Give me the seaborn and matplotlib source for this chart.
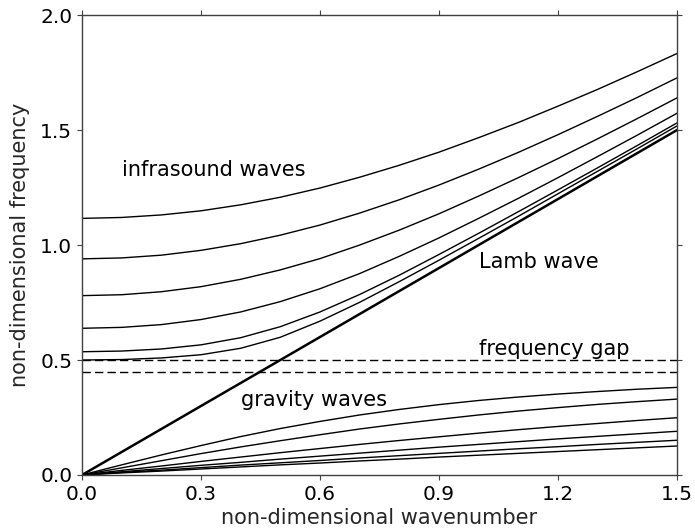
import matplotlib
matplotlib.use("Agg")
import matplotlib.pyplot as plt
import seaborn as sns
import pandas as pd

# Values
WAVENUMBER = [0.0, 0.1, 0.2, 0.3, 0.4, 0.5, 0.6, 0.7, 0.8, 0.9, 1.0, 1.1, 1.2, 1.3, 1.4, 1.5]

# infrasound (acoustic) branches, top to bottom
INFRA_1 = [1.116, 1.120, 1.131, 1.149, 1.175, 1.208, 1.248, 1.295, 1.347, 1.404, 1.467, 1.533, 1.604, 1.677, 1.754, 1.833]
INFRA_2 = [0.940, 0.944, 0.956, 0.977, 1.006, 1.043, 1.087, 1.139, 1.197, 1.261, 1.330, 1.403, 1.480, 1.560, 1.642, 1.727]
INFRA_3 = [0.780, 0.784, 0.797, 0.819, 0.851, 0.892, 0.941, 1.000, 1.065, 1.136, 1.213, 1.293, 1.376, 1.462, 1.550, 1.640]
INFRA_4 = [0.638, 0.642, 0.654, 0.676, 0.709, 0.754, 0.810, 0.876, 0.951, 1.031, 1.116, 1.203, 1.293, 1.385, 1.478, 1.573]
INFRA_5 = [0.536, 0.539, 0.548, 0.566, 0.597, 0.645, 0.709, 0.785, 0.869, 0.959, 1.051, 1.145, 1.240, 1.336, 1.433, 1.531]
INFRA_6 = [0.500, 0.502, 0.509, 0.523, 0.551, 0.599, 0.669, 0.751, 0.841, 0.934, 1.029, 1.125, 1.223, 1.321, 1.419, 1.518]

# gravity wave branches, top to bottom
GRAV_1 = [0.000, 0.044, 0.087, 0.128, 0.167, 0.202, 0.233, 0.261, 0.285, 0.306, 0.324, 0.339, 0.352, 0.363, 0.373, 0.381]
GRAV_2 = [0.000, 0.031, 0.062, 0.093, 0.122, 0.149, 0.175, 0.200, 0.222, 0.242, 0.261, 0.278, 0.293, 0.307, 0.319, 0.330]
GRAV_3 = [0.000, 0.020, 0.039, 0.059, 0.078, 0.097, 0.115, 0.133, 0.150, 0.166, 0.182, 0.197, 0.211, 0.224, 0.237, 0.249]
GRAV_4 = [0.000, 0.014, 0.028, 0.042, 0.055, 0.069, 0.082, 0.095, 0.108, 0.121, 0.133, 0.145, 0.157, 0.168, 0.179, 0.190]
GRAV_5 = [0.000, 0.011, 0.021, 0.032, 0.043, 0.053, 0.063, 0.074, 0.084, 0.094, 0.104, 0.114, 0.123, 0.133, 0.142, 0.151]
GRAV_6 = [0.000, 0.009, 0.017, 0.026, 0.035, 0.044, 0.052, 0.061, 0.069, 0.078, 0.086, 0.094, 0.102, 0.110, 0.118, 0.126]

# Lamb wave (non-dispersive)
LAMB = [0.0, 0.1, 0.2, 0.3, 0.4, 0.5, 0.6, 0.7, 0.8, 0.9, 1.0, 1.1, 1.2, 1.3, 1.4, 1.5]

# frequency gap edges
GAP_EDGES = [0.5, 0.45]

X_TICKS = [0.0, 0.3, 0.6, 0.9, 1.2, 1.5]
Y_TICKS = [0.0, 0.5, 1.0, 1.5, 2.0]

LABELS = [
    ("infrasound waves", 0.1, 1.3),
    ("Lamb wave", 1.0, 0.9),
    ("frequency gap", 1.0, 0.52),
    ("gravity waves", 0.4, 0.3),
]

OUTPUT_FILE = "out.png"


def build_frame():
    """Long-form table of every dispersion branch."""
    branches = {
        "infra_1": INFRA_1, "infra_2": INFRA_2, "infra_3": INFRA_3,
        "infra_4": INFRA_4, "infra_5": INFRA_5, "infra_6": INFRA_6,
        "grav_1": GRAV_1, "grav_2": GRAV_2, "grav_3": GRAV_3,
        "grav_4": GRAV_4, "grav_5": GRAV_5, "grav_6": GRAV_6,
    }
    rows = []
    for name, values in branches.items():
        for k, w in zip(WAVENUMBER, values):
            rows.append([name, k, w])
    return pd.DataFrame(rows, columns=["branch", "k", "omega"])


def main():
    sns.set_style("ticks")
    plt.rcParams.update({
        "font.family": ["DejaVu Sans"],
        "axes.edgecolor": "0.25",
        "axes.linewidth": 1.0,
        "xtick.color": "0.25",
        "ytick.color": "0.25",
        "xtick.labelcolor": "black",
        "ytick.labelcolor": "black",
        "xtick.direction": "out",
        "ytick.direction": "out",
        "xtick.top": True,
        "ytick.right": True,
        "xtick.major.size": 3.5,
        "ytick.major.size": 3.5,
        "xtick.major.width": 0.8,
        "ytick.major.width": 0.8,
    })

    df = build_frame()

    fig = plt.figure(figsize=(6.95, 5.31), dpi=100)
    ax = fig.add_axes([0.118, 0.1055, 0.856, 0.866])

    sns.lineplot(data=df, x="k", y="omega", units="branch", estimator=None,
                 color="black", linewidth=1.0, ax=ax)
    sns.lineplot(x=WAVENUMBER, y=LAMB, color="black", linewidth=1.8, ax=ax)

    for y in GAP_EDGES:
        ax.axhline(y, color="black", linewidth=1.0, linestyle=(0, (6, 3)))

    for text, x, y in LABELS:
        ax.text(x, y, text, fontsize=15, color="black")

    ax.set_xlim(0, 1.5)
    ax.set_ylim(0, 2.0)
    ax.set_xticks(X_TICKS)
    ax.set_yticks(Y_TICKS)
    ax.set_xticklabels([f"{v:.1f}" for v in X_TICKS])
    ax.set_yticklabels([f"{v:.1f}" for v in Y_TICKS])
    ax.tick_params(labelsize=14.5)
    ax.set_xlabel("non-dimensional wavenumber", fontsize=15, labelpad=3)
    ax.set_ylabel("non-dimensional frequency", fontsize=15, labelpad=7)

    fig.savefig(OUTPUT_FILE, dpi=100)
    plt.close(fig)


if __name__ == "__main__":
    main()
